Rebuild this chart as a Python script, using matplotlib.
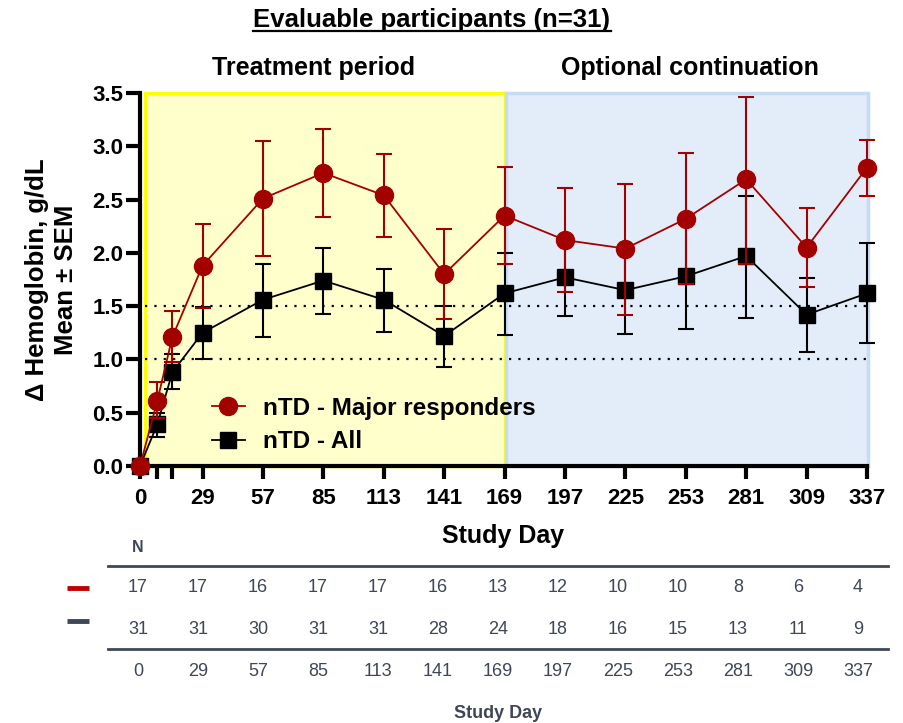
import matplotlib.pyplot as plt
from matplotlib.patches import Rectangle
from matplotlib.lines import Line2D

plt.rcParams['font.family'] = ['Liberation Sans', 'DejaVu Sans']

# study days and mean change in hemoglobin (+/- SEM bounds)
days = [0, 8, 15, 29, 57, 85, 113, 141, 169, 197, 225, 253, 281, 309, 337]

major_mean = [0.0, 0.61, 1.21, 1.88, 2.51, 2.75, 2.54, 1.80, 2.35, 2.12, 2.04, 2.32, 2.69, 2.05, 2.80]
major_hi = [0.0, 0.79, 1.45, 2.27, 3.05, 3.16, 2.93, 2.22, 2.81, 2.61, 2.65, 2.94, 3.46, 2.42, 3.06]
major_lo = [0.0, 0.45, 0.98, 1.48, 1.97, 2.34, 2.15, 1.38, 1.90, 1.63, 1.42, 1.71, 1.90, 1.68, 2.53]

all_mean = [0.0, 0.39, 0.88, 1.25, 1.56, 1.74, 1.56, 1.22, 1.62, 1.77, 1.65, 1.78, 1.97, 1.42, 1.62]
all_hi = [0.0, 0.50, 1.05, 1.49, 1.90, 2.05, 1.85, 1.50, 2.00, 2.13, 2.06, 2.27, 2.53, 1.76, 2.09]
all_lo = [0.0, 0.27, 0.72, 1.00, 1.21, 1.43, 1.26, 0.93, 1.23, 1.41, 1.24, 1.29, 1.39, 1.07, 1.15]

# numbers at risk table
table_days = [0, 29, 57, 85, 113, 141, 169, 197, 225, 253, 281, 309, 337]
n_major = [17, 17, 16, 17, 17, 16, 13, 12, 10, 10, 8, 6, 4]
n_all = [31, 31, 30, 31, 31, 28, 24, 18, 16, 15, 13, 11, 9]

red = '#A30000'
slate = '#3E4657'

fig = plt.figure(figsize=(9.04, 7.23), dpi=100)
ax = fig.add_axes([140 / 904, 257 / 723, 727 / 904, 373 / 723])

# shaded study periods
ax.add_patch(Rectangle((2.3, 0), 169 - 2.3, 3.5, facecolor='#FFFFCC', edgecolor='#FFFF00',
                       lw=2.5, zorder=0, clip_on=False))
ax.add_patch(Rectangle((169.6, 0), 168, 3.5, facecolor='#E3EDFA', edgecolor='#C6DBF6',
                       lw=2.5, zorder=0, clip_on=False))

for yv in (1.0, 1.5):
    ax.plot([2.5, 337], [yv, yv], color='black', ls=(0, (1, 3.2)), lw=1.6, zorder=1)

err_all = [[m - l for m, l in zip(all_mean, all_lo)], [h - m for m, h in zip(all_mean, all_hi)]]
err_major = [[m - l for m, l in zip(major_mean, major_lo)], [h - m for m, h in zip(major_mean, major_hi)]]

ax.errorbar(days, all_mean, yerr=err_all, color='black', marker='s', ms=11.5, lw=1.3,
            capsize=6, capthick=1.5, elinewidth=1.5, zorder=3, clip_on=False)
ax.errorbar(days, major_mean, yerr=err_major, color=red, marker='o', ms=13, lw=1.3,
            capsize=6, capthick=1.5, elinewidth=1.5, zorder=4, clip_on=False)

h1 = Line2D([], [], color=red, marker='o', ms=13, lw=1.3)
h2 = Line2D([], [], color='black', marker='s', ms=11.5, lw=1.3)
ax.legend([h1, h2], ['nTD - Major responders', 'nTD - All'], loc='upper left',
          bbox_to_anchor=(0.099, 0.185), frameon=False, handlelength=1.35,
          handletextpad=0.75, borderpad=0, borderaxespad=0, labelspacing=0.42,
          prop={'weight': 'bold', 'size': 17.5})

ax.set_xlim(0, 337)
ax.set_ylim(0, 3.5)
tick_days = [0, 8, 15] + table_days[1:]
ax.set_xticks(tick_days)
ax.set_xticklabels(['0', '', ''] + [str(d) for d in table_days[1:]])
ax.set_yticks([0, 0.5, 1.0, 1.5, 2.0, 2.5, 3.0, 3.5])
ax.set_yticklabels(['0.0', '0.5', '1.0', '1.5', '2.0', '2.5', '3.0', '3.5'])
for lab in ax.get_xticklabels() + ax.get_yticklabels():
    lab.set_fontweight('bold')
    lab.set_fontsize(16)
ax.tick_params(axis='x', width=3, length=9.5, pad=6)
ax.tick_params(axis='y', width=3, length=10, pad=2)

for s in ('top', 'right'):
    ax.spines[s].set_visible(False)
for s in ('left', 'bottom'):
    ax.spines[s].set_linewidth(3)
ax.set_facecolor('none')

ax.set_xlabel('Study Day', fontsize=18, fontweight='bold', labelpad=11)
ax.set_ylabel('\u0394 Hemoglobin, g/dL\nMean \u00b1 SEM', fontsize=18.5, fontweight='bold',
              labelpad=10, linespacing=1.3)

# headings
title = fig.text(432 / 904, 1 - 20 / 723, 'Evaluable participants (n=31)', ha='center',
                 va='center', fontsize=18.5, fontweight='bold')
fig.text(314 / 904, 1 - 68 / 723, 'Treatment period', ha='center', va='center',
         fontsize=18, fontweight='bold')
fig.text(690 / 904, 1 - 68 / 723, 'Optional continuation', ha='center', va='center',
         fontsize=18, fontweight='bold')

# underline the title
fig.canvas.draw()
bb = title.get_window_extent().transformed(fig.transFigure.inverted())
fig.add_artist(Line2D([bb.x0, bb.x1], [bb.y0 + 0.001, bb.y0 + 0.001], color='black', lw=1.6))

# numbers table
def fy(py):
    return 1 - py / 723

fig.text(138 / 904, fy(547), 'N', ha='center', va='center', fontsize=11.5, fontweight='bold',
         color=slate)
for py in (566, 649):
    fig.add_artist(Line2D([108 / 904, 888 / 904], [fy(py), fy(py)], color=slate, lw=2))
fig.add_artist(Line2D([67 / 904, 89 / 904], [fy(588), fy(588)], color='#C00000', lw=3.5,
                      solid_capstyle='butt'))
fig.add_artist(Line2D([67 / 904, 89 / 904], [fy(621), fy(621)], color=slate, lw=3.5,
                      solid_capstyle='butt'))
for i, d in enumerate(table_days):
    x = (138 + 60 * i) / 904
    fig.text(x, fy(588), str(n_major[i]), ha='center', va='center', fontsize=13, color=slate)
    fig.text(x, fy(630), str(n_all[i]), ha='center', va='center', fontsize=13, color=slate)
    fig.text(x, fy(672), str(d), ha='center', va='center', fontsize=13, color=slate)
fig.text(498 / 904, fy(713), 'Study Day', ha='center', va='center', fontsize=13,
         fontweight='bold', color=slate)

fig.savefig('out.png', dpi=100)
